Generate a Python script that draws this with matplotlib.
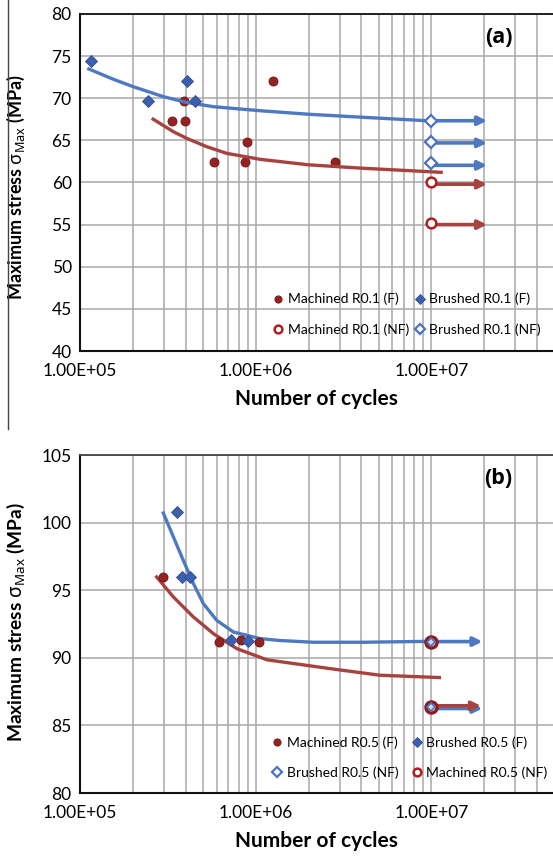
import numpy as np
import matplotlib
matplotlib.use('Agg')
import matplotlib.pyplot as plt
from matplotlib.ticker import FixedLocator, FixedFormatter, LogLocator, NullFormatter
from matplotlib.lines import Line2D

plt.rcParams['font.family'] = ['Lato', 'DejaVu Sans']
plt.rcParams['mathtext.fontset'] = 'custom'
for k in ('rm', 'it', 'bf', 'sf'):
    plt.rcParams['mathtext.' + k] = 'Noto Sans:bold'

# ---------------- data: panel (a) R0.1 ----------------
a_mach_f_x = [3.33e5, 3.96e5, 3.90e5, 5.77e5, 8.69e5, 8.96e5, 1.26e6, 2.83e6]
a_mach_f_y = [67.3, 67.3, 69.7, 62.4, 62.4, 64.8, 72.0, 62.4]
a_brush_f_x = [1.155e5, 2.43e5, 4.04e5, 4.52e5]
a_brush_f_y = [74.4, 69.7, 72.0, 69.7]
a_mach_nf_x = [1e7, 1e7]
a_mach_nf_y = [60.1, 55.2]
a_brush_nf_x = [1e7, 1e7, 1e7]
a_brush_nf_y = [67.3, 64.8, 62.3]
a_brush_trend_x = [1.10e5, 1.55e5, 2.01e5, 2.98e5, 4.05e5, 5.74e5, 1.06e6, 2.0e6, 4.0e6, 1.0e7]
a_brush_trend_y = [73.55, 72.25, 71.37, 70.19, 69.5, 69.0, 68.52, 68.1, 67.75, 67.3]
a_mach_trend_x = [2.56e5, 3.40e5, 4.05e5, 5.26e5, 6.84e5, 1.06e6, 2.0e6, 4.0e6, 1.16e7]
a_mach_trend_y = [67.62, 66.03, 65.24, 64.25, 63.46, 62.75, 62.1, 61.7, 61.2]
a_arrow_start = 1e7
a_arrow_end = 2.07e7
a_brush_arrow_y = [67.33, 64.7, 62.04]
a_mach_arrow_y = [59.8, 55.0]

# ---------------- data: panel (b) R0.5 ----------------
b_mach_f_x = [2.98e5, 6.2e5, 8.22e5, 1.04e6]
b_mach_f_y = [96.0, 91.2, 91.3, 91.2]
b_brush_f_x = [3.55e5, 3.82e5, 4.23e5, 7.2e5, 9.08e5]
b_brush_f_y = [100.8, 96.0, 96.0, 91.3, 91.25]
b_mach_nf_x = [1e7, 1e7]
b_mach_nf_y = [91.2, 86.36]
b_brush_nf_x = [1e7, 1e7]
b_brush_nf_y = [91.2, 86.36]
b_brush_trend_x = [2.98e5, 3.40e5, 3.87e5, 4.42e5, 5.04e5, 6.0e5, 7.46e5, 1.06e6, 1.37e6, 2.13e6, 4.09e6, 1.0e7]
b_brush_trend_y = [100.71, 98.94, 97.21, 95.49, 94.0, 92.77, 91.91, 91.42, 91.28, 91.15, 91.15, 91.22]
b_mach_trend_x = [2.73e5, 3.40e5, 4.42e5, 5.74e5, 7.8e5, 1.16e6, 2.65e6, 5.09e6, 1.11e7]
b_mach_trend_y = [95.98, 94.5, 93.02, 91.79, 90.68, 89.85, 89.2, 88.71, 88.54]
b_arrow_start = 1e7
b_arrow_end = 1.95e7
b_brush_arrow_y = [91.2, 86.25]
b_mach_arrow_y = [86.45]

xtick_vals = [1e5, 1e6, 1e7]
xtick_labels = ['1.00E+05', '1.00E+06', '1.00E+07']
a_yticks = [40, 45, 50, 55, 60, 65, 70, 75, 80]
b_yticks = [80, 85, 90, 95, 100, 105]

RED_M = '#952222'
RED_L = '#A8423F'
RED_O = '#B01F1F'
BLUE_M = '#3C60AE'
BLUE_L = '#4E79C2'
BLUE_O = '#4A72C4'
GRID = '#A8A8A8'

W, H = 553, 856
fig = plt.figure(figsize=(W / 100, H / 100), dpi=100)


def px_axes(l, t, r, b):
    return fig.add_axes([l / W, 1 - b / H, (r - l) / W, (b - t) / H])


axa = px_axes(80, 14, 553, 351)
axb = px_axes(80, 455, 553, 793)


def style(ax, yticks, topcolor, ylab_y, ylab_size):
    ax.set_xscale('log')
    ax.set_xlim(1e5, 10 ** 7.692)
    ax.set_ylim(yticks[0], yticks[-1])
    ax.xaxis.set_major_locator(FixedLocator(xtick_vals))
    ax.xaxis.set_major_formatter(FixedFormatter(xtick_labels))
    ax.xaxis.set_minor_locator(LogLocator(base=10, subs=np.arange(2, 10)))
    ax.xaxis.set_minor_formatter(NullFormatter())
    ax.set_yticks(yticks)
    ax.grid(which='major', color=GRID, lw=1.1)
    ax.grid(which='minor', axis='x', color=GRID, lw=1.1)
    ax.set_axisbelow(True)
    ax.tick_params(which='both', length=0, labelsize=12.5)
    ax.tick_params(axis='x', pad=8.5)
    ax.tick_params(axis='y', pad=6)
    ax.spines['right'].set_visible(False)
    ax.spines['left'].set_color('#111111')
    ax.spines['bottom'].set_color('#111111')
    ax.spines['left'].set_linewidth(1.5)
    ax.spines['bottom'].set_linewidth(1.5)
    ax.spines['top'].set_color(topcolor)
    ax.spines['top'].set_linewidth(1.3)
    ax.set_xlabel('Number of cycles', fontsize=15, fontweight='bold')
    ax.set_ylabel('Maximum stress $\\mathbf{\\sigma_{Max}}$ (MPa)', fontsize=ylab_size, fontweight='bold')
    ax.xaxis.set_label_coords(0.5, -38 / (ax.get_position().height * H))
    ax.yaxis.set_label_coords(-53 / 473, ylab_y)


style(axa, a_yticks, '#111111', 0.485, 13)
style(axb, b_yticks, '#444444', 0.506, 13.8)


def arrows(ax, ys, x0, x1, color):
    for y in ys:
        ax.annotate('', xy=(x1, y), xytext=(x0, y),
                    arrowprops=dict(arrowstyle='-|>', color=color, lw=2.6,
                                    mutation_scale=13, shrinkA=0, shrinkB=0),
                    zorder=3)


LEG = dict(ncol=2, frameon=False, loc='center', fontsize=10, borderpad=0,
           handlelength=0.7, handletextpad=0.33, labelspacing=1.3, markerscale=0.8)

# ---- panel (a)
axa.plot(a_mach_f_x, a_mach_f_y, 'o', ms=6.5, color=RED_M, mec='#6E1212', mew=0.6, zorder=3,
         label='Machined R0.1 (F)')
axa.plot(a_brush_trend_x, a_brush_trend_y, '-', color=BLUE_L, lw=2.4, zorder=4, solid_capstyle='butt')
axa.plot(a_mach_trend_x, a_mach_trend_y, '-', color=RED_L, lw=2.4, zorder=4, solid_capstyle='butt')
axa.plot(a_brush_f_x, a_brush_f_y, 'D', ms=6.2, color=BLUE_M, mec='#2C4B92', mew=0.6, zorder=5,
         label='Brushed R0.1 (F)')
arrows(axa, a_brush_arrow_y, a_arrow_start, a_arrow_end, BLUE_L)
arrows(axa, a_mach_arrow_y, a_arrow_start, a_arrow_end, RED_L)
axa.plot(a_mach_nf_x, a_mach_nf_y, 'o', ms=7, mfc='white', mec=RED_O, mew=1.8, zorder=6,
         label='Machined R0.1 (NF)')
axa.plot(a_brush_nf_x, a_brush_nf_y, 'D', ms=6.5, mfc='white', mec=BLUE_O, mew=1.6, zorder=6,
         label='Brushed R0.1 (NF)')
h, l = axa.get_legend_handles_labels()
order = [0, 2, 1, 3]
axa.legend([h[i] for i in order], [l[i] for i in order],
           bbox_to_anchor=(0.692, 0.1083), columnspacing=0.43, **LEG)
axa.text(0.885, 0.930, '(a)', transform=axa.transAxes, ha='center', va='center',
         fontsize=15.5, fontweight='bold', family='Open Sans')

# ---- panel (b)
axb.plot(b_brush_trend_x, b_brush_trend_y, '-', color=BLUE_L, lw=2.4, zorder=3)
axb.plot(b_mach_trend_x, b_mach_trend_y, '-', color=RED_L, lw=2.4, zorder=3)
arrows(axb, b_brush_arrow_y, b_arrow_start, b_arrow_end, BLUE_L)
arrows(axb, b_mach_arrow_y, b_arrow_start, b_arrow_end * 0.98, RED_L)
axb.plot(b_mach_f_x, b_mach_f_y, 'o', ms=6.5, color=RED_M, mec='#6E1212', mew=0.6, zorder=5,
         label='Machined R0.5 (F)')
axb.plot(b_brush_f_x, b_brush_f_y, 'D', ms=6.2, color=BLUE_M, mec='#2C4B92', mew=0.6, zorder=5,
         label='Brushed R0.5 (F)')
axb.plot(b_mach_nf_x, b_mach_nf_y, 'o', ms=8, mfc='#D9D9F0', mec='#8E1A1A', mew=2.4, zorder=6,
         label='Machined R0.5 (NF)')
axb.plot(b_brush_nf_x, b_brush_nf_y, 'D', ms=4.5, mfc='none', mec=BLUE_O, mew=1.2, zorder=7,
         label='Brushed R0.5 (NF)')
h, l = axb.get_legend_handles_labels()
hb = [Line2D([], [], ls='none', marker='o', ms=6.5, color=RED_M, mec='#6E1212', mew=0.6),
      Line2D([], [], ls='none', marker='D', ms=6.5, mfc='white', mec=BLUE_O, mew=1.6),
      Line2D([], [], ls='none', marker='D', ms=6.2, color=BLUE_M, mec='#2C4B92', mew=0.6),
      Line2D([], [], ls='none', marker='o', ms=7, mfc='white', mec=RED_O, mew=1.8)]
lb = [l[0], l[3], l[1], l[2]]
axb.legend(hb, lb, bbox_to_anchor=(0.6976, 0.1046), columnspacing=0.97, **LEG)
axb.text(0.885, 0.9296, '(b)', transform=axb.transAxes, ha='center', va='center',
         fontsize=15.5, fontweight='bold', family='Open Sans')

# left border line of the original figure crop
fig.add_artist(Line2D([7.5 / W, 7.5 / W], [1, 1 - 429 / H], transform=fig.transFigure,
                      color='#444444', lw=1.0))

fig.savefig('out.png', dpi=100)
